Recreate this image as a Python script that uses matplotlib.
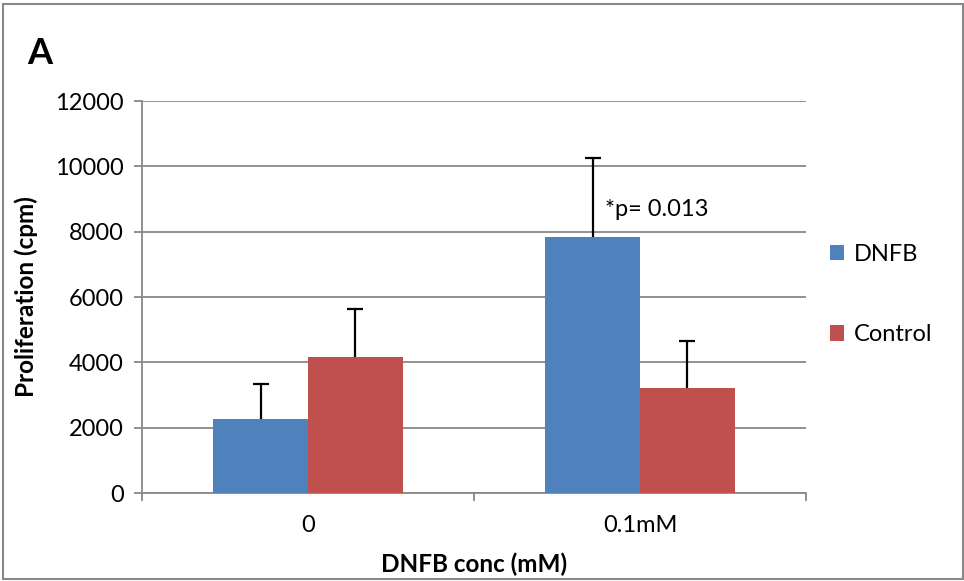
import matplotlib
matplotlib.use("Agg")
import matplotlib.pyplot as plt
from matplotlib.patches import Rectangle
import numpy as np

plt.rcParams['font.family'] = ['Lato', 'DejaVu Sans']

categories = ["0", "0.1mM"]
series_names = ["DNFB", "Control"]
dnfb_values = [2255, 7850]
control_values = [4155, 3225]
dnfb_err = [1090, 2395]
control_err = [1470, 1430]
yticks = [0, 2000, 4000, 6000, 8000, 10000, 12000]

blue = "#4F81BD"
red = "#C0504D"
grid_c = "#888888"

W, H = 964, 581
fig = plt.figure(figsize=(W / 100, H / 100), dpi=100)

def fx(px):
    return px / W

def fy(py):
    return 1 - py / H

ax = fig.add_axes([fx(142), fy(493), fx(806) - fx(142), fy(101) - fy(493)])

x = np.arange(len(categories))
bw = 1 / 3.5
ax.bar(x - bw / 2, dnfb_values, bw, color=blue, label=series_names[0], zorder=3)
ax.bar(x + bw / 2, control_values, bw, color=red, label=series_names[1], zorder=3)
for xs, vals, errs in [(x - bw / 2, dnfb_values, dnfb_err), (x + bw / 2, control_values, control_err)]:
    eb = ax.errorbar(xs, vals, yerr=[np.zeros(2), errs], fmt='none',
                     ecolor='black', elinewidth=1.6, capsize=5.5, capthick=1.6, zorder=4)
    eb.lines[1][0].set_visible(False)

ax.set_xlim(-0.5, 1.5)
ax.set_ylim(0, 12000)
ax.set_yticks(yticks)
ax.set_yticklabels([str(v) for v in yticks], fontsize=17)
ax.yaxis.grid(True, color=grid_c, linewidth=1.3, zorder=0)
ax.set_axisbelow(True)
ax.tick_params(axis='y', length=5.8, width=1.3, color=grid_c, pad=7.5)

ax.set_xticks([-0.5, 0.5, 1.5])
ax.set_xticklabels([])
ax.set_xticks([0, 1], minor=True)
ax.set_xticklabels(categories, minor=True, fontsize=17)
ax.tick_params(axis='x', which='major', length=5.8, width=1.3, color=grid_c)
ax.tick_params(axis='x', which='minor', length=0, pad=16)

for s in ['top', 'right']:
    ax.spines[s].set_visible(False)
for s in ['left', 'bottom']:
    ax.spines[s].set_color(grid_c)
    ax.spines[s].set_linewidth(1.3)

ax.set_ylabel("Proliferation (cpm)", fontsize=17.5, fontweight='bold', labelpad=12)
ax.set_xlabel("DNFB conc (mM)", fontsize=17.5, fontweight='bold', labelpad=12)

ax.text(1 - bw / 2 + 0.037, 8690, "*p= 0.013", fontsize=17, ha='left', va='center')

leg = ax.legend(loc='center left', bbox_to_anchor=(1.0, 0.506), frameon=False,
                fontsize=17, handlelength=0.62, handleheight=0.62, labelspacing=2.5,
                handletextpad=0.4, borderaxespad=0.6)

fig.text(fx(27), fy(53), "A", fontsize=26, fontweight='bold', ha='left', va='center')

fig.patches.append(Rectangle((fx(3), fy(579)), fx(963) - fx(3), fy(4) - fy(579),
                             transform=fig.transFigure, fill=False,
                             edgecolor=grid_c, linewidth=1.5))

fig.savefig("out.png", dpi=100)
